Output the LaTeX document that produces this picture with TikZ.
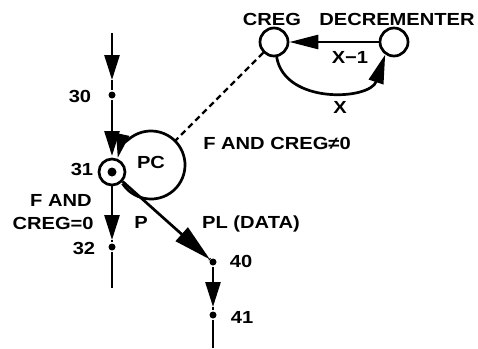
\documentclass[tikz,border=0pt]{standalone}
\usepackage{fontspec}
\setmainfont{Liberation Sans}[FakeStretch=1.15]
\usetikzlibrary{arrows.meta,calc}
\begin{document}
\begin{tikzpicture}[x=1pt,y=-1pt,line width=2.7pt,
  lbl/.style={font=\fontsize{17.5}{19}\selectfont\bfseries,inner sep=0pt,text height=12.5pt,text depth=0pt},
  dot/.style={circle,fill,draw=none,inner sep=0pt,minimum size=7pt},
  statebox/.style={circle,draw,line width=2.7pt,minimum size=28pt,inner sep=0pt},
  tipv/.style={-{Triangle[length=25pt,width=15pt]}},
  tipd/.style={-{Triangle[length=38pt,width=18pt]}}
]
\useasboundingbox (0,0) rectangle (478,348);
% nodes
\coordinate (top1) at (112,33);
\coordinate (t30) at (112,80);
\node[dot] (d30) at (112,95) {};
\coordinate (t31) at (112,156);
\node[circle,draw,line width=2.7pt,minimum size=26pt,inner sep=0pt] (n31) at (112,172) {};
\node[dot,minimum size=9pt] (n31c) at (112,172) {};
\coordinate (t32) at (112,240);
\node[dot] (d32) at (112,247) {};
\coordinate (bot1) at (112,288);
\coordinate (t40) at (210,259.5);
\node[dot] (d40) at (213,262) {};
\coordinate (t41) at (213,307);
\node[dot] (d41) at (213,315) {};
\coordinate (bot2) at (213,348);
\node[statebox] (creg) at (274,42) {};
\node[statebox] (decr) at (394,42) {};
\coordinate (loopc) at (151,165);
\coordinate (looptouch) at ($(loopc)+(-45:34)$);
\coordinate (loopstart) at ($(loopc)+(147:34)$);
% connectors
\draw[tipv] (top1) -- (t30);
\draw (t30) -- (d30);
\draw[tipv] (d30) -- (t31);
\draw[tipv] (n31) -- (t32);
\draw (t32) -- (d32);
\draw (d32) -- (bot1);
\draw[tipd] (n31) -- (t40);
\draw (t40) -- (d40);
\draw[tipv] (d40) -- (t41);
\draw (t41) -- (d41);
\draw (d41) -- (bot2);
\draw[-{Triangle[length=24pt,width=13pt]}] (loopstart) arc[start angle=147,end angle=-168,radius=34];
\draw[line width=2.4pt,dash pattern=on 6pt off 4pt] (creg) -- (looptouch);
\draw[-{Triangle[length=29pt,width=14pt]}] (decr) -- (creg);
\draw[-{Triangle[length=29pt,width=15pt]}] (creg.-80) .. controls (285,105) and (370,100) .. (decr.-125);
% labels
\node[lbl] (l30) at (80,96) {30};
\node[lbl] (l31) at (82,169) {31};
\node[lbl] (lpc) at (151,162) {PC};
\node[lbl,anchor=east] (lfand) at (93,200) {F AND};
\node[lbl,anchor=east] (lcreg0) at (95,223) {CREG=0};
\node[lbl] (l32) at (84,248) {32};
\node[lbl] (lp) at (141,222) {P};
\node[lbl] (lpl) at (251,222) {PL (DATA)};
\node[lbl] (l40) at (241,261) {40};
\node[lbl] (l41) at (242,317) {41};
\node[lbl] (lfne) at (277,143) {F AND CREG≠0};
\node[lbl] (lcreg) at (272,19) {CREG};
\node[lbl] (ldecr) at (397,19) {DECREMENTER};
\node[lbl] (lxm1) at (350,57) {X−1};
\node[lbl] (lx) at (340,107) {X};
\end{tikzpicture}
\end{document}
